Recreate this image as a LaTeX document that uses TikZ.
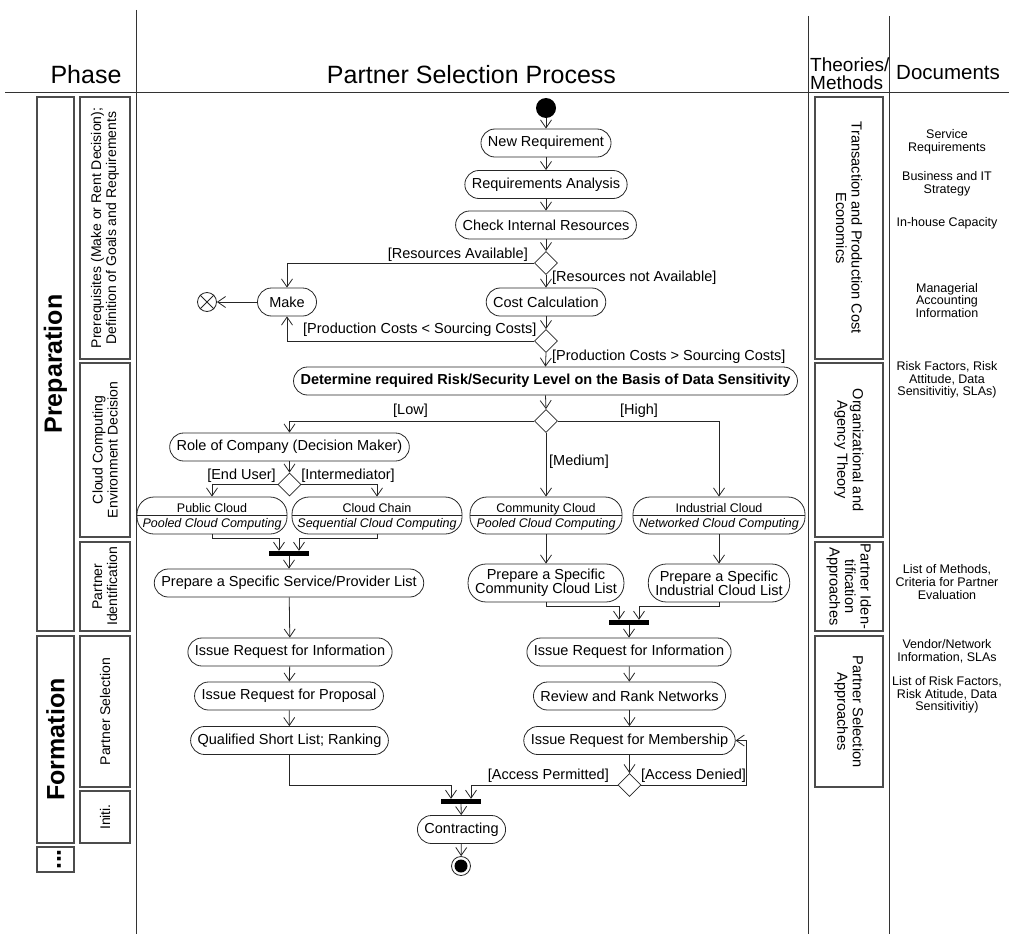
\documentclass[tikz,border=0pt]{standalone}
\usepackage{fontspec}
\setmainfont{Liberation Sans}
\usetikzlibrary{arrows.meta,shapes.geometric,calc}
\newcommand\fsz[2]{\fontsize{#1}{#2}\selectfont}

\begin{document}
\begin{tikzpicture}[x=1pt,y=-1pt,
  frame/.style={draw=black!80, line width=0.9pt},
  line/.style={draw=black!85, line width=0.8pt},
  flow/.style={line, -{Straight Barb[length=8pt,width=11pt]}},
  act/.style={draw=black!85, line width=0.8pt, rectangle, rounded corners=14pt,
    minimum height=28pt, inner xsep=7pt, inner ysep=0pt, font=\fsz{14.5}{14}},
  act2/.style={act, rounded corners=18pt, minimum height=38pt, align=center},
  cloud/.style={draw=black!85, line width=0.8pt, rectangle, rounded corners=17pt,
    minimum height=37pt, inner sep=0pt},
  cloudtxt/.style={inner sep=0pt, anchor=base, font=\fsz{12.5}{13}},
  dec/.style={draw=black!85, line width=0.8pt, diamond, minimum width=23pt,
    minimum height=23pt, inner sep=0pt},
  bar/.style={fill=black, minimum width=40pt, minimum height=5pt, inner sep=0pt},
  guard/.style={inner sep=0pt, font=\fsz{14.5}{16}},
  phasebox/.style={draw=black!70, line width=1.2pt, inner sep=0pt},
  doc/.style={inner sep=0pt, align=center, font=\fsz{12.5}{12.7}},
]
\useasboundingbox (0,0) rectangle (1009,934);

% ---------- column frame ----------
\draw[frame] (5,92) -- (1009,92);
\draw[frame] (136,10) -- (136,934);
\draw[frame] (808,16) -- (808,934);
\draw[frame] (889,16) -- (889,934);

\node[inner sep=0pt, anchor=base, font=\fsz{25}{25}] (hphase) at (86,83) {Phase};
\node[inner sep=0pt, anchor=base, font=\fsz{25}{25}] (hproc) at (471.5,83) {Partner Selection Process};
\node[inner sep=0pt, anchor=south west, align=left, font=\fsz{19}{17.5}] (htheo) at (810,89.5) {Theories/\\Methods};
\node[inner sep=0pt, anchor=base west, font=\fsz{20.5}{20.5}] (hdocs) at (896,79.5) {Documents};

% ---------- phases ----------
\node[phasebox, rotate=90, minimum width=534pt, minimum height=37pt, font=\bfseries\fsz{25}{25}] (prep) at (55.5,364) {Preparation};
\node[phasebox, rotate=90, minimum width=207pt, minimum height=37pt, font=\bfseries\fsz{25}{25}] (form) at (55.5,739.5) {Formation};
\node[phasebox, minimum width=37pt, minimum height=25pt] (more) at (55.5,859.5) {};
\node[inner sep=0pt, rotate=90, font=\bfseries\fsz{25}{25}] (moretxt) at (59,859.5) {...};

\node[phasebox, rotate=90, minimum width=262pt, minimum height=50pt, align=center, font=\fsz{14}{15}] (sp1) at (105,228) {Prerequisites (Make or Rent Decision);\\Definition of Goals and Requirements};
\node[phasebox, rotate=90, minimum width=174pt, minimum height=50pt, align=center, font=\fsz{14}{15}] (sp2) at (105,450) {Cloud Computing\\Environment Decision};
\node[phasebox, rotate=90, minimum width=89pt, minimum height=50pt, align=center, font=\fsz{14}{15}] (sp3) at (105,586.5) {Partner\\Identification};
\node[phasebox, rotate=90, minimum width=151pt, minimum height=50pt, align=center, font=\fsz{14}{15}] (sp4) at (105,711.5) {Partner Selection};
\node[phasebox, rotate=90, minimum width=52pt, minimum height=50pt, align=center, font=\fsz{14}{15}] (sp5) at (105,817) {Initi.};

% ---------- theories / methods ----------
\node[phasebox, rotate=-90, minimum width=262pt, minimum height=68pt, align=center, font=\fsz{14.6}{15.5}] (th1) at (849,228) {Transaction and Production Cost\\Economics};
\node[phasebox, rotate=-90, minimum width=174pt, minimum height=68pt, align=center, font=\fsz{14.6}{15.5}] (th2) at (849,450) {Organizational and\\Agency Theory};
\node[phasebox, rotate=-90, minimum width=89pt, minimum height=68pt, align=center, font=\fsz{14.6}{15.5}] (th3) at (849,586.5) {Partner Iden-\\tification\\Approaches};
\node[phasebox, rotate=-90, minimum width=151pt, minimum height=68pt, align=center, font=\fsz{14.6}{15.5}] (th4) at (849,711.5) {Partner Selection\\Approaches};

% ---------- documents ----------
\node[doc] (doc1) at (947,142) {Service\\Requirements};
\node[doc] (doc2) at (947,183.5) {Business and IT\\Strategy};
\node[doc] (doc3) at (947,223) {In-house Capacity};
\node[doc] (doc4) at (947,300.5) {Managerial\\Accounting\\Information};
\node[doc] (doc5) at (947,380) {Risk Factors, Risk\\Attitude, Data\\Sensitivitiy, SLAs)};
\node[doc] (doc6) at (947,582) {List of Methods,\\Criteria for Partner\\Evaluation};
\node[doc] (doc7) at (947,651) {Vendor/Network\\Information, SLAs};
\node[doc] (doc8) at (947,695) {List of Risk Factors,\\Risk Atitude, Data\\Sensitivitiy)};

% ---------- activity nodes ----------
\node[circle, fill=black, minimum size=20pt, inner sep=0pt] (start) at (546,108) {};
\node[act] (newreq) at (546,143) {New Requirement};
\node[act] (reqana) at (546,184.5) {Requirements Analysis};
\node[act] (checkres) at (546,225) {Check Internal Resources};
\node[dec] (d1) at (546,263) {};
\node[act, minimum width=59pt] (make) at (287,302) {Make};
\node[circle, draw=black!85, line width=0.8pt, minimum size=19pt, inner sep=0pt] (ff) at (207,302) {};
\node[act] (cost) at (546,302) {Cost Calculation};
\node[dec] (d2) at (546,341) {};
\node[act, font=\bfseries\fsz{14.5}{14}] (risk) at (545.5,381) {Determine required Risk/Security Level on the Basis of Data Sensitivity};
\node[dec] (d3) at (546,421) {};
\node[act] (role) at (289.5,447) {Role of Company (Decision Maker)};
\node[dec] (d4) at (289.5,484.5) {};

\node[cloud, minimum width=150pt] (pub) at (212,515.5) {};
\node[cloud, minimum width=170pt] (chain) at (377,515.5) {};
\node[cloud, minimum width=152pt] (comm) at (546,515.5) {};
\node[cloud, minimum width=172pt] (ind) at (719,515.5) {};
\foreach \n in {pub,chain,comm,ind} \draw[line] (\n.west) -- (\n.east);
\node[cloudtxt] (pubA) at (212,512.7) {Public Cloud};
\node[cloudtxt, font=\itshape\fsz{12.5}{13}] (pubB) at (212,527.5) {Pooled Cloud Computing};
\node[cloudtxt] (chainA) at (377,512.7) {Cloud Chain};
\node[cloudtxt, font=\itshape\fsz{12.5}{13}] (chainB) at (377,527.5) {Sequential Cloud Computing};
\node[cloudtxt] (commA) at (546,512.7) {Community Cloud};
\node[cloudtxt, font=\itshape\fsz{12.5}{13}] (commB) at (546,527.5) {Pooled Cloud Computing};
\node[cloudtxt] (indA) at (719,512.7) {Industrial Cloud};
\node[cloudtxt, font=\itshape\fsz{12.5}{13}] (indB) at (719,527.5) {Networked Cloud Computing};

\node[bar] (bar1) at (289,553.5) {};
\node[act] (psl) at (289,583) {Prepare a Specific Service/Provider List};
\node[act2] (pcomm) at (546,583) {Prepare a Specific\\Community Cloud List};
\node[act2] (pind) at (719,583) {Prepare a Specific\\Industrial Cloud List};
\node[bar] (bar2) at (629,622.5) {};

\node[act] (iril) at (290,652) {Issue Request for Information};
\node[act] (irp) at (289,696) {Issue Request for Proposal};
\node[act] (qsl) at (289.5,740.5) {Qualified Short List; Ranking};
\node[act] (irir) at (629,652) {Issue Request for Information};
\node[act] (rrn) at (629.5,696) {Review and Rank Networks};
\node[act] (irm) at (629.5,740.5) {Issue Request for Membership};
\node[dec] (d5) at (629.5,785) {};
\node[bar] (bar3) at (461,801.5) {};
\node[act] (contr) at (461.5,829.5) {Contracting};
\node[circle, draw=black!85, line width=0.8pt, minimum size=19pt, inner sep=0pt] (final) at (461,866) {};
\node[circle, fill=black, minimum size=13pt, inner sep=0pt] (finalin) at (final.center) {};

% ---------- guards ----------
\node[guard, anchor=east] (gavail) at (528,255) {[Resources Available]};
\node[guard, anchor=west] (gnot) at (552,278) {[Resources not Available]};
\node[guard, anchor=west] (gless) at (303,330) {[Production Costs < Sourcing Costs]};
\node[guard, anchor=west] (gmore) at (552,357) {[Production Costs > Sourcing Costs]};
\node[guard] (glow) at (410.5,411) {[Low]};
\node[guard] (ghigh) at (639,411) {[High]};
\node[guard] (gmed) at (579,462) {[Medium]};
\node[guard] (gend) at (241.5,476) {[End User]};
\node[guard] (gint) at (348,476) {[Intermediator]};
\node[guard, anchor=east] (gperm) at (609,776) {[Access Permitted]};
\node[guard, anchor=west] (gden) at (641,776) {[Access Denied]};

% ---------- join points ----------
\coordinate (j1l) at ($(bar1.north)+(-10,0)$);
\coordinate (j1r) at ($(bar1.north)+(10,0)$);
\coordinate (j2l) at ($(bar2.north)+(-10,0)$);
\coordinate (j2r) at ($(bar2.north)+(10,0)$);
\coordinate (j3l) at ($(bar3.north)+(-10,0)$);
\coordinate (j3r) at ($(bar3.north)+(10,0)$);
\coordinate (loop) at ($(irm.east)+(11,0)$);

% ---------- connectors ----------
\draw[flow] (start) -- (newreq);
\draw[flow] (newreq) -- (reqana);
\draw[flow] (reqana) -- (checkres);
\draw[flow] (checkres) -- (d1);
\draw[flow] (d1.west) -| (make.north);
\draw[flow] (d1.south) -- (cost.north);
\draw[flow] (make.west) -- (ff.east);
\draw[line] (ff.north east) -- (ff.south west) (ff.north west) -- (ff.south east);
\draw[flow] (cost) -- (d2);
\draw[flow] (d2.west) -| (make.south);
\draw[flow] (d2.south) -- (risk.north);
\draw[flow] (risk.south) -- (d3.north);
\draw[flow] (d3.west) -| (role.north);
\draw[flow] (d3.east) -| (ind.north);
\draw[flow] (d3.south) -- (comm.north);
\draw[flow] (role.south) -- (d4.north);
\draw[flow] (d4.west) -| (pub.north);
\draw[flow] (d4.east) -| (chain.north);
\draw[flow] (pub.south) -- ++(0,4) -| (j1l);
\draw[flow] (chain.south) -- ++(0,4) -| (j1r);
\draw[flow] (bar1) -- (psl);
\draw[flow] (comm.south) -- (pcomm.north);
\draw[flow] (ind.south) -- (pind.north);
\draw[flow] (pcomm.south) -- ++(0,4) -| (j2l);
\draw[flow] (pind.south) -- ++(0,4) -| (j2r);
\draw[flow] (bar2) -- (irir);
\draw[flow] (psl) -- (iril);
\draw[flow] (iril) -- (irp);
\draw[flow] (irp) -- (qsl);
\draw[flow] (irir) -- (rrn);
\draw[flow] (rrn) -- (irm);
\draw[flow] (irm.south) -- (d5.north);
\draw[flow] (qsl.south) |- (j3l |- d5.west) -- (j3l);
\draw[flow] (d5.west) -| (j3r);
\draw[flow] (d5.east) -| (loop) -- (irm.east);
\draw[flow] (bar3) -- (contr);
\draw[flow] (contr) -- (final);
\end{tikzpicture}
\end{document}
